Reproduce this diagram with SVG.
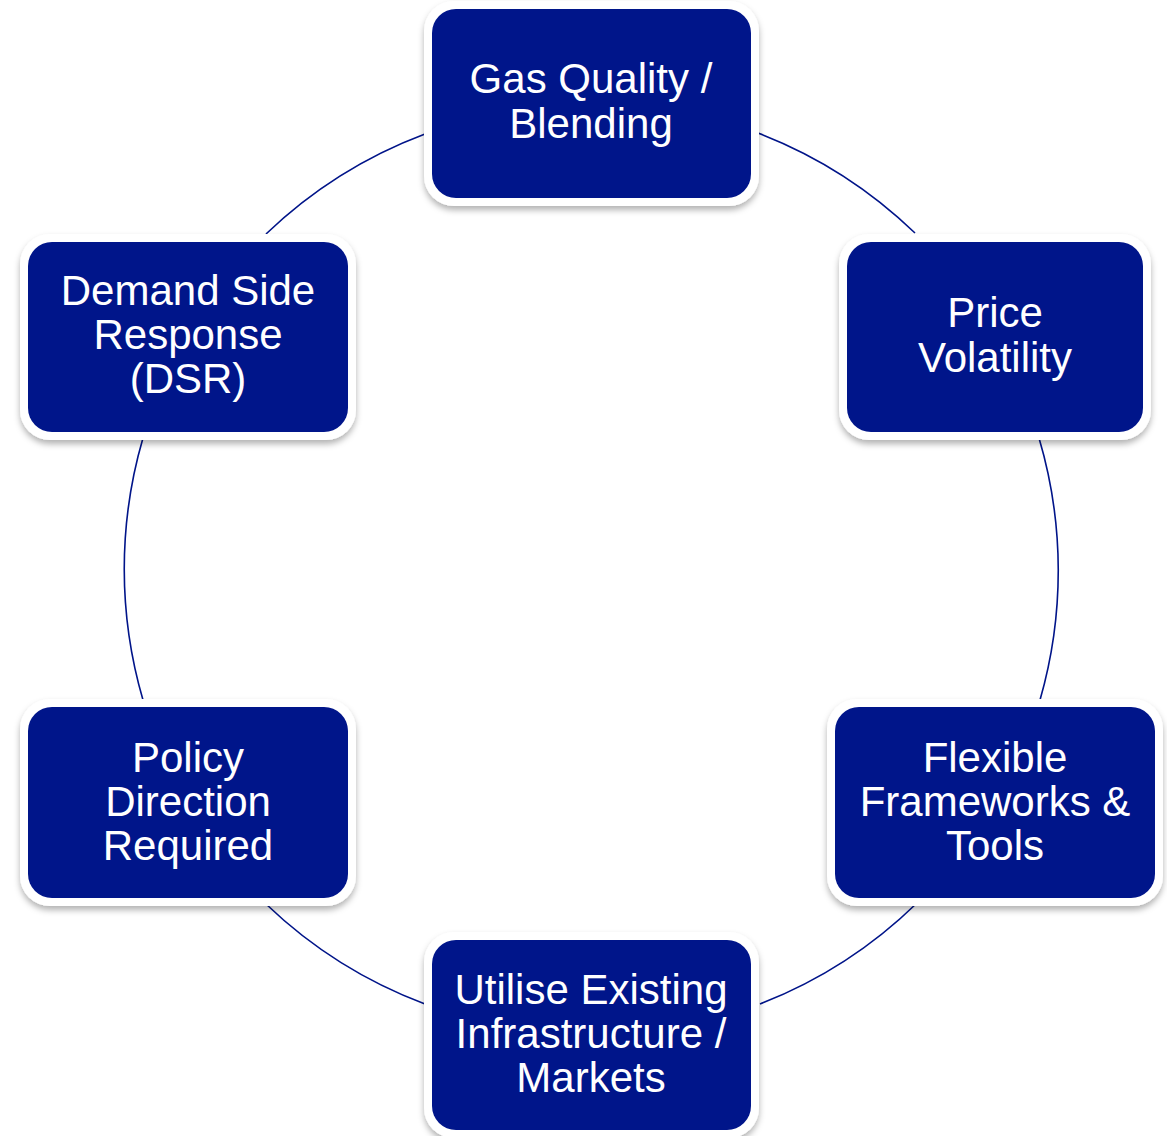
<svg xmlns="http://www.w3.org/2000/svg" width="1167" height="1136" viewBox="0 0 1167 1136">
<defs>
<style>
.outer{fill:#ffffff;}
.inner{fill:#00158A;}
.lbl{font-family:"Liberation Sans",Arial,sans-serif;font-size:42px;fill:#ffffff;text-anchor:middle;}
.arc{fill:none;stroke:#001489;stroke-width:1.6;}
</style>
<filter id="sh" x="-10%" y="-10%" width="120%" height="130%">
<feDropShadow dx="0" dy="4" stdDeviation="3" flood-color="#000000" flood-opacity="0.3"/>
</filter>
</defs>
<rect width="1167" height="1136" fill="#ffffff"/>
<g id="connectors">
<path class="arc" d="M758,133 A467,467 0 0 1 915,233"/>
<path class="arc" d="M1039,438 A467,467 0 0 1 1040,700"/>
<path class="arc" d="M917,903 A467,467 0 0 1 760,1004"/>
<path class="arc" d="M425,1004 A467,467 0 0 1 266,904"/>
<path class="arc" d="M143,700 A467,467 0 0 1 143,438"/>
<path class="arc" d="M266,234 A467,467 0 0 1 425,134"/>
</g>
<g id="node-gas">
<rect class="outer" filter="url(#sh)" x="424" y="1" width="335" height="205" rx="30"/>
<rect class="inner" x="432" y="9" width="319" height="189" rx="24"/>
<text class="lbl" x="591" y="93">Gas Quality /</text>
<text class="lbl" x="591" y="138">Blending</text>
</g>
<g id="node-price">
<rect class="outer" filter="url(#sh)" x="839" y="234" width="312" height="206" rx="30"/>
<rect class="inner" x="847" y="242" width="296" height="190" rx="24"/>
<text class="lbl" x="995" y="327">Price</text>
<text class="lbl" x="995" y="372">Volatility</text>
</g>
<g id="node-flex">
<rect class="outer" filter="url(#sh)" x="827" y="699" width="336" height="207" rx="30"/>
<rect class="inner" x="835" y="707" width="320" height="191" rx="24"/>
<text class="lbl" x="995" y="772">Flexible</text>
<text class="lbl" x="995" y="816">Frameworks &amp;</text>
<text class="lbl" x="995" y="860">Tools</text>
</g>
<g id="node-util">
<rect class="outer" filter="url(#sh)" x="424" y="932" width="335" height="206" rx="30"/>
<rect class="inner" x="432" y="940" width="319" height="190" rx="24"/>
<text class="lbl" x="591" y="1004">Utilise Existing</text>
<text class="lbl" x="591" y="1048">Infrastructure /</text>
<text class="lbl" x="591" y="1092">Markets</text>
</g>
<g id="node-policy">
<rect class="outer" filter="url(#sh)" x="20" y="699" width="336" height="207" rx="30"/>
<rect class="inner" x="28" y="707" width="320" height="191" rx="24"/>
<text class="lbl" x="188" y="772">Policy</text>
<text class="lbl" x="188" y="816">Direction</text>
<text class="lbl" x="188" y="860">Required</text>
</g>
<g id="node-dsr">
<rect class="outer" filter="url(#sh)" x="20" y="234" width="336" height="206" rx="30"/>
<rect class="inner" x="28" y="242" width="320" height="190" rx="24"/>
<text class="lbl" x="188" y="305">Demand Side</text>
<text class="lbl" x="188" y="349">Response</text>
<text class="lbl" x="188" y="393">(DSR)</text>
</g>
</svg>
